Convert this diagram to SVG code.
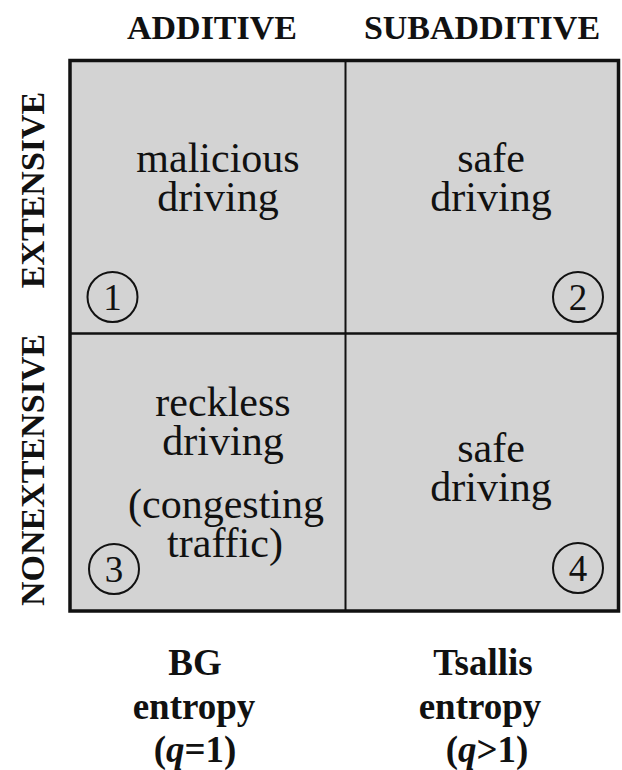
<svg xmlns="http://www.w3.org/2000/svg" width="622" height="770" viewBox="0 0 622 770">
<style>
.hdr{font-family:"Liberation Serif","Times New Roman",serif;font-weight:bold;font-size:34px;fill:#111;text-anchor:middle}
.bot{font-family:"Liberation Serif","Times New Roman",serif;font-weight:bold;font-size:37px;fill:#111;text-anchor:middle}
.q{font-family:"Liberation Serif","Times New Roman",serif;font-size:42px;fill:#111;text-anchor:middle}
.num{font-family:"Liberation Serif","Times New Roman",serif;font-size:37px;fill:#111;text-anchor:middle}
.circ{fill:none;stroke:#111;stroke-width:2}
.cell{fill:#d3d3d3;stroke:none}
</style>
<g id="headers">
<text class="hdr" x="212" y="39">ADDITIVE</text>
<text class="hdr" x="482" y="39">SUBADDITIVE</text>
<text class="hdr" transform="rotate(-90 44 190)" x="44" y="190">EXTENSIVE</text>
<text class="hdr" transform="rotate(-90 44 470)" x="44" y="470">NONEXTENSIVE</text>
</g>
<g id="frame">
<rect class="cell" x="70" y="60.5" width="548.5" height="550.5"/>
</g>
<g id="connectors">
<line x1="345.5" y1="60.5" x2="345.5" y2="611" stroke="#111" stroke-width="2"/>
<line x1="70" y1="333.5" x2="618.5" y2="333.5" stroke="#111" stroke-width="2.5"/>
<rect x="70" y="60.5" width="548.5" height="550.5" fill="none" stroke="#111" stroke-width="3.5"/>
</g>
<g id="q1">
<text class="q" x="218" y="172">malicious</text>
<text class="q" x="218" y="211">driving</text>
<circle class="circ" cx="112.5" cy="297" r="25"/>
<text class="num" x="112.5" y="310">1</text>
</g>
<g id="q2">
<text class="q" x="491" y="172">safe</text>
<text class="q" x="491" y="211">driving</text>
<circle class="circ" cx="578" cy="297" r="25"/>
<text class="num" x="578" y="310">2</text>
</g>
<g id="q3">
<text class="q" x="223" y="416">reckless</text>
<text class="q" x="223" y="455">driving</text>
<text class="q" x="226" y="518">(congesting</text>
<text class="q" x="225" y="557">traffic)</text>
<circle class="circ" cx="114" cy="569" r="25"/>
<text class="num" x="114" y="582">3</text>
</g>
<g id="q4">
<text class="q" x="491" y="462">safe</text>
<text class="q" x="491" y="501">driving</text>
<circle class="circ" cx="578" cy="568" r="25"/>
<text class="num" x="578" y="581">4</text>
</g>
<g id="footer">
<text class="bot" x="195" y="675">BG</text>
<text class="bot" x="194" y="719">entropy</text>
<text class="bot" x="195" y="762" font-size="35">(<tspan font-style="italic">q</tspan>=1)</text>
<text class="bot" x="483" y="675">Tsallis</text>
<text class="bot" x="480" y="719">entropy</text>
<text class="bot" x="487" y="762" font-size="35">(<tspan font-style="italic">q</tspan>&gt;1)</text>
</g>
</svg>
